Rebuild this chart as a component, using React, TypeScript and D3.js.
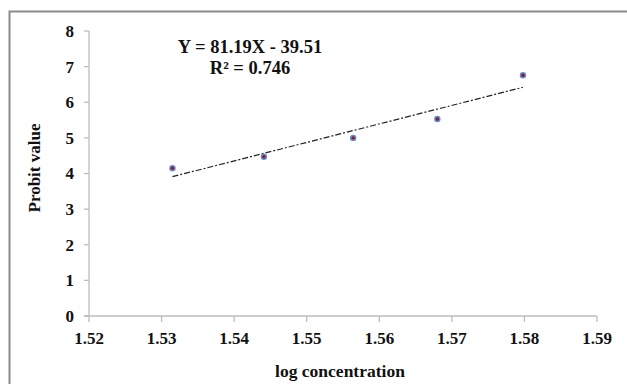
import { useEffect, useRef } from "react";
import * as d3 from "d3";

const logConc = [1.5315, 1.5441, 1.5564, 1.568, 1.5798];
const probit = [4.15, 4.47, 5.0, 5.53, 6.76];
const xTicks = [1.52, 1.53, 1.54, 1.55, 1.56, 1.57, 1.58, 1.59];
const yTicks = [0, 1, 2, 3, 4, 5, 6, 7, 8];
const eqLines = ["Y = 81.19X - 39.51", "R² = 0.746"];

const App = () => {
  const ref = useRef<SVGSVGElement>(null);

  useEffect(() => {
    const svg = d3.select(ref.current);
    svg.selectAll("*").remove();
    const font = "'Liberation Serif', 'Times New Roman', serif";

    // outer frame (only top/left visible in the crop)
    svg
      .append("path")
      .attr("d", "M9.5,384 L9.5,11.5 L627,11.5")
      .attr("fill", "none")
      .attr("stroke", "#8c8c8c")
      .attr("stroke-width", 2);

    const x = d3.scaleLinear().domain([1.52, 1.59]).range([89, 597]);
    const y = d3.scaleLinear().domain([0, 8]).range([316, 31]);

    // y axis
    const gy = svg.append("g").attr("transform", "translate(89,0)");
    gy.append("line")
      .attr("y1", y(0))
      .attr("y2", y(8))
      .attr("stroke", "#bdbdbd")
      .attr("stroke-width", 1.3);
    gy.selectAll("line.t")
      .data(yTicks)
      .join("line")
      .attr("class", "t")
      .attr("x1", -5)
      .attr("x2", 0)
      .attr("y1", (d) => y(d))
      .attr("y2", (d) => y(d))
      .attr("stroke", "#bdbdbd")
      .attr("stroke-width", 1.3);
    gy.selectAll("text")
      .data(yTicks)
      .join("text")
      .attr("x", -15)
      .attr("y", (d) => y(d))
      .attr("dy", "0.35em")
      .attr("text-anchor", "end")
      .attr("font-family", font)
      .attr("font-weight", "bold")
      .attr("font-size", 17)
      .attr("fill", "#111")
      .text((d) => d);

    // x axis
    const gx = svg.append("g").attr("transform", `translate(0,${y(0)})`);
    gx.append("line")
      .attr("x1", x(1.52) - 5)
      .attr("x2", x(1.59))
      .attr("stroke", "#bdbdbd")
      .attr("stroke-width", 1.3);
    gx.selectAll("line.t")
      .data(xTicks)
      .join("line")
      .attr("class", "t")
      .attr("x1", (d) => x(d))
      .attr("x2", (d) => x(d))
      .attr("y1", 0)
      .attr("y2", 6)
      .attr("stroke", "#bdbdbd")
      .attr("stroke-width", 1.3);
    gx.selectAll("text")
      .data(xTicks)
      .join("text")
      .attr("x", (d) => x(d))
      .attr("y", 28)
      .attr("text-anchor", "middle")
      .attr("font-family", font)
      .attr("font-weight", "bold")
      .attr("font-size", 17)
      .attr("fill", "#111")
      .text((d) => d.toFixed(2));

    // axis titles
    svg
      .append("text")
      .attr("x", 340)
      .attr("y", 377)
      .attr("text-anchor", "middle")
      .attr("font-family", font)
      .attr("font-weight", "bold")
      .attr("font-size", 17.5)
      .attr("fill", "#111")
      .text("log concentration");
    svg
      .append("text")
      .attr("transform", "translate(40,168) rotate(-90)")
      .attr("text-anchor", "middle")
      .attr("font-family", font)
      .attr("font-weight", "bold")
      .attr("font-size", 17)
      .attr("fill", "#111")
      .text("Probit value");

    // linear trend line
    const mx = d3.mean(logConc)!;
    const my = d3.mean(probit)!;
    const sxy = d3.sum(logConc, (v, i) => (v - mx) * (probit[i] - my));
    const sxx = d3.sum(logConc, (v) => (v - mx) ** 2);
    const slope = sxy / sxx;
    const icpt = my - slope * mx;
    const [x0, x1] = d3.extent(logConc) as [number, number];
    svg
      .append("line")
      .attr("x1", x(x0))
      .attr("y1", y(slope * x0 + icpt))
      .attr("x2", x(x1))
      .attr("y2", y(slope * x1 + icpt))
      .attr("stroke", "#222")
      .attr("stroke-width", 1.2)
      .attr("stroke-dasharray", "6,2,2,2");

    // points
    const pts = svg
      .append("g")
      .selectAll("g")
      .data(logConc)
      .join("g")
      .attr("transform", (d, i) => `translate(${x(d)},${y(probit[i])})`);
    pts.append("circle").attr("r", 3.2).attr("fill", "#5b8fd0");
    pts.append("circle").attr("r", 1.7).attr("fill", "#a01028");

    // equation
    svg
      .append("g")
      .selectAll("text")
      .data(eqLines)
      .join("text")
      .attr("x", 250)
      .attr("y", (d, i) => 53 + i * 21)
      .attr("text-anchor", "middle")
      .attr("font-family", font)
      .attr("font-weight", "bold")
      .attr("font-size", 18.5)
      .attr("fill", "#111")
      .text((d) => d);
  }, []);

  return (
    <svg
      ref={ref}
      width={627}
      height={384}
      style={{ position: "absolute", left: 0, top: 0, background: "#fff" }}
    />
  );
};

export default App;
